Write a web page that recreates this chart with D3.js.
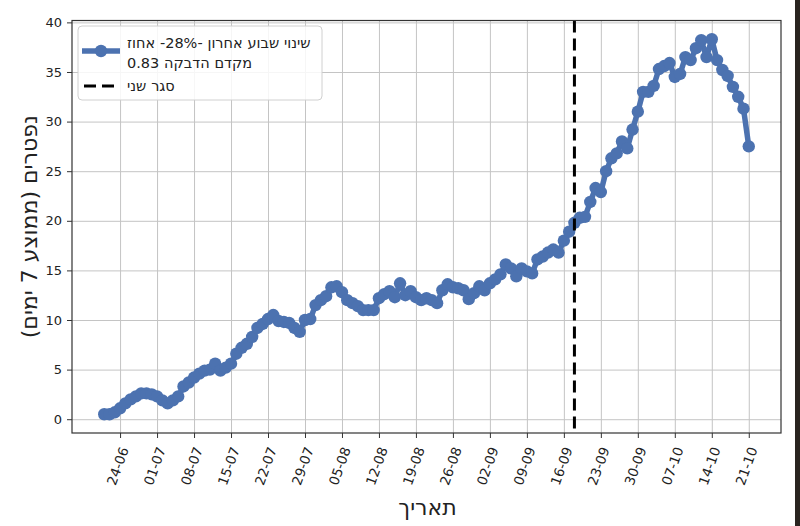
<!DOCTYPE html>
<html>
<head>
<meta charset="utf-8">
<script src="https://cdn.jsdelivr.net/npm/d3@7"></script>
<style>
  body { margin: 0; background: #fff; }
  svg { display: block; font-family: "DejaVu Sans", sans-serif; }
</style>
</head>
<body>
<script>
// Daily deaths, 7 day average, starting 21-06-2020
const startDate = "2020-06-21";
const deaths = [
  0.5, 0.5, 0.7, 1.1, 1.6, 2.0, 2.3, 2.6, 2.6, 2.5,
  2.3, 1.9, 1.6, 1.9, 2.3, 3.3, 3.7, 4.2, 4.6, 4.9,
  5.0, 5.6, 4.9, 5.2, 5.6, 6.6, 7.2, 7.6, 8.3, 9.2,
  9.6, 10.1, 10.5, 9.9, 9.8, 9.7, 9.2, 8.8, 10.0, 10.1,
  11.5, 12.0, 12.4, 13.3, 13.4, 12.8, 12.0, 11.7, 11.4, 11.0,
  11.0, 11.0, 12.2, 12.6, 12.9, 12.3, 13.7, 12.5, 12.9, 12.3,
  12.0, 12.2, 12.0, 11.7, 13.0, 13.6, 13.3, 13.2, 13.0, 12.1,
  12.7, 13.4, 13.0, 13.7, 14.1, 14.6, 15.6, 15.2, 14.4, 15.2,
  14.9, 14.7, 16.1, 16.4, 16.8, 17.1, 16.8, 18.0, 18.9, 19.8,
  20.3, 20.4, 21.9, 23.3, 22.9, 25.0, 26.3, 26.8, 28.0, 27.3,
  29.2, 31.0, 33.0, 33.0, 33.6, 35.3, 35.6, 35.9, 34.5, 34.8,
  36.5, 36.2, 37.4, 38.2, 36.5, 38.3, 36.2, 35.2, 34.6, 33.5,
  32.5, 31.3, 27.5
];
const xTickLabels = ["24-06", "01-07", "08-07", "15-07", "22-07", "29-07", "05-08", "12-08", "19-08",
  "26-08", "02-09", "09-09", "16-09", "23-09", "30-09", "07-10", "14-10", "21-10"];
const yTickValues = [0, 5, 10, 15, 20, 25, 30, 35, 40];
const lockdownDate = "2020-09-18";

// legend words in reading order (right to left)
const legendSeries = [["שינוי", "שבוע", "אחרון", "-28%-", "אחוז"], ["מקדם", "הדבקה", "0.83"]];
const legendLockdown = ["סגר", "שני"];
const xTitle = "תאריך";
const yTitle = "נפטרים (ממוצע 7 ימים)";

const w = 800;
const h = 526;
const plot = { left: 72, right: 781, top: 20.5, bottom: 433 };
const blue = "#4C72B0";

const parseDay = d3.timeParse("%Y-%m-%d");
const parseTick = d3.timeParse("%d-%m-%Y");
const start = parseDay(startDate);
const data = deaths.map((v, i) => ({ date: d3.timeDay.offset(start, i), value: v }));
const tickDates = xTickLabels.map((t) => parseTick(`${t}-2020`));

const svg = d3.select("body").append("svg").attr("width", w).attr("height", h);

// matplotlib-like 5% margins
const pad = (ext) => {
  const r = ext[1] - ext[0];
  return [ext[0] - r * 0.05, ext[1] + r * 0.05];
};
const xExt = d3.extent(data, (d) => d.date).map(Number);
const xScale = d3.scaleTime()
  .domain(pad(xExt).map((t) => new Date(t)))
  .range([plot.left, plot.right]);
const yScale = d3.scaleLinear()
  .domain(pad(d3.extent(data, (d) => d.value)))
  .range([plot.bottom, plot.top]);

// grid
svg.append("g")
  .attr("transform", `translate(0, ${plot.bottom})`)
  .call(d3.axisBottom(xScale).tickValues(tickDates).tickSize(-(plot.bottom - plot.top)).tickFormat(""))
  .call((g) => g.select(".domain").remove())
  .call((g) => g.selectAll("line").attr("stroke", "#c4c4c4").attr("stroke-width", 1));
svg.append("g")
  .attr("transform", `translate(${plot.left}, 0)`)
  .call(d3.axisLeft(yScale).tickValues(yTickValues).tickSize(-(plot.right - plot.left)).tickFormat(""))
  .call((g) => g.select(".domain").remove())
  .call((g) => g.selectAll("line").attr("stroke", "#c4c4c4").attr("stroke-width", 1));

// series line and markers
const line = d3.line().x((d) => xScale(d.date)).y((d) => yScale(d.value));
svg.append("path")
  .datum(data)
  .attr("fill", "none")
  .attr("stroke", blue)
  .attr("stroke-width", 5.5)
  .attr("stroke-linejoin", "round")
  .attr("d", line);
svg.selectAll(".dot")
  .data(data)
  .enter()
  .append("circle")
  .attr("class", "dot")
  .attr("cx", (d) => xScale(d.date))
  .attr("cy", (d) => yScale(d.value))
  .attr("r", 6.2)
  .attr("fill", blue);

// second lockdown
const lx = xScale(parseDay(lockdownDate));
svg.append("line")
  .attr("x1", lx).attr("x2", lx)
  .attr("y1", plot.top).attr("y2", plot.bottom)
  .attr("stroke", "#000")
  .attr("stroke-width", 3)
  .attr("stroke-dasharray", "12,6");

// frame
svg.append("rect")
  .attr("x", plot.left).attr("y", plot.top)
  .attr("width", plot.right - plot.left).attr("height", plot.bottom - plot.top)
  .attr("fill", "none").attr("stroke", "#333").attr("stroke-width", 1.2);

// x axis
svg.append("g")
  .attr("transform", `translate(0, ${plot.bottom})`)
  .call(d3.axisBottom(xScale).tickValues(tickDates).tickSize(5).tickFormat(d3.timeFormat("%d-%m")))
  .call((g) => g.select(".domain").remove())
  .call((g) => g.selectAll("line").attr("stroke", "#333"))
  .call((g) => g.selectAll("text")
    .attr("y", 0).attr("dy", null)
    .attr("text-anchor", "middle")
    .attr("dominant-baseline", "central")
    .attr("transform", "translate(-3, 33) rotate(-70)")
    .attr("fill", "#222")
    .style("font-size", "13.5px")
    .style("font-family", "DejaVu Sans"));

// y axis
svg.append("g")
  .attr("transform", `translate(${plot.left}, 0)`)
  .call(d3.axisLeft(yScale).tickValues(yTickValues).tickSize(5).tickPadding(5))
  .call((g) => g.select(".domain").remove())
  .call((g) => g.selectAll("line").attr("stroke", "#333"))
  .call((g) => g.selectAll("text")
    .attr("fill", "#222")
    .style("font-size", "13px")
    .style("font-family", "DejaVu Sans"));

// axis titles
svg.append("text")
  .attr("x", (plot.left + plot.right) / 2 + 1)
  .attr("y", 515)
  .attr("text-anchor", "middle")
  .style("font-size", "22px")
  .attr("fill", "#222")
  .text(xTitle);

svg.append("text")
  .attr("transform", `translate(37, ${(plot.top + plot.bottom) / 2}) rotate(-90)`)
  .attr("text-anchor", "middle")
  .attr("direction", "rtl")
  .style("font-size", "22px")
  .attr("fill", "#222")
  .text(yTitle);

// legend
const legend = svg.append("g").attr("id", "legend");
legend.append("rect")
  .attr("x", 78).attr("y", 26)
  .attr("width", 244).attr("height", 74)
  .attr("rx", 4)
  .attr("fill", "#fff").attr("fill-opacity", 0.85)
  .attr("stroke", "#d0d0d0");
legend.append("line")
  .attr("x1", 82).attr("x2", 120).attr("y1", 51).attr("y2", 51)
  .attr("stroke", blue).attr("stroke-width", 5.5);
legend.append("circle").attr("cx", 101).attr("cy", 51).attr("r", 6.2).attr("fill", blue);

// words are read right to left, so lay them out from the last one
function wordRow(words, x, y) {
  let cx = x;
  words.slice().reverse().forEach((wd) => {
    const t = legend.append("text")
      .attr("x", cx).attr("y", y)
      .style("font-size", "14.5px")
      .attr("fill", "#222")
      .text(wd);
    cx += t.node().getComputedTextLength() + 4.8;
  });
}
legendSeries.forEach((words, i) => wordRow(words, 127, 48 + i * 19.5));
legend.append("line")
  .attr("x1", 84).attr("x2", 119).attr("y1", 86).attr("y2", 86)
  .attr("stroke", "#000").attr("stroke-width", 3).attr("stroke-dasharray", "12,6");
wordRow(legendLockdown, 127, 91);

// dark edge at the right of the picture
svg.append("rect").attr("x", 795).attr("y", 0).attr("width", 5).attr("height", h).attr("fill", "#2a2420");
</script>
</body>
</html>
